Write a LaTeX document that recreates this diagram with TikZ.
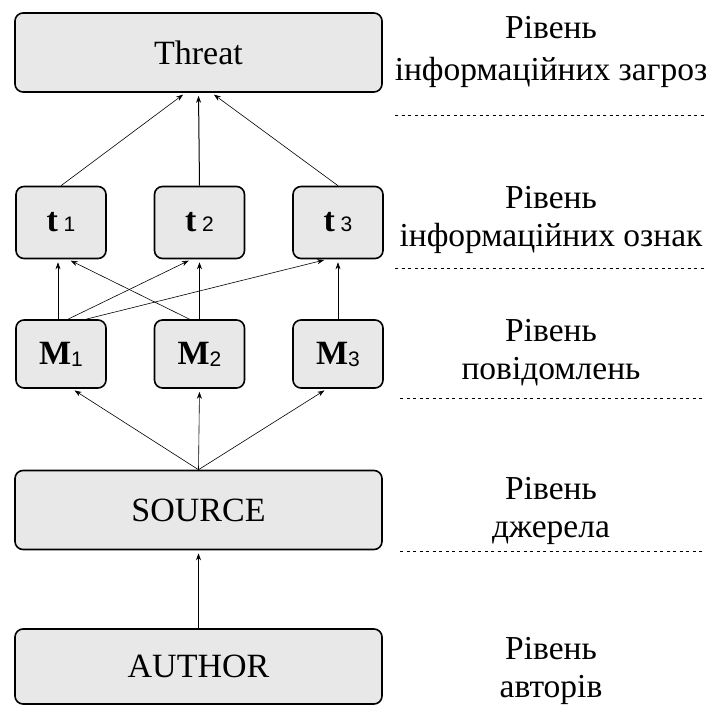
\documentclass[tikz,border=0pt]{standalone}
\usepackage{fontspec}
\setmainfont{Liberation Serif}
\setsansfont{Liberation Sans}
\usetikzlibrary{arrows.meta}
\definecolor{boxgray}{HTML}{E8E8E8}
% index digits of the node labels, set in a sans face
\newcommand\idx[1]{{\sffamily\fontsize{21}{21}\selectfont #1}}
\begin{document}
\begin{tikzpicture}[x=1pt,y=-1pt,
  box/.style={draw=black, line width=1.6pt, rounded corners=8pt, fill=boxgray,
    inner sep=0pt, font=\fontsize{34}{40}\selectfont},
  wide/.style={box, minimum width=367pt, minimum height=79pt},
  small/.style={box, minimum width=90pt, minimum height=72pt},
  link/.style={-{Stealth[length=7pt,width=5pt]}, line width=0.6pt, shorten >=3pt},
  level/.style={align=center, font=\fontsize{33.5}{38}\selectfont},
  sep/.style={dash pattern=on 3pt off 3.5pt, line width=1pt}]
\useasboundingbox (0,0) rectangle (709,707);

% boxes
\node[wide]  (threat) at (198.5,52.5) {Threat};
\node[small] (t1) at (61,222.5)  {\textbf{t}\,\idx{1}};
\node[small] (t2) at (199.5,222.5) {\textbf{t}\,\idx{2}};
\node[small] (t3) at (338,222.5) {\textbf{t}\,\idx{3}};
\node[small, minimum height=68pt] (m1) at (61,354)  {\textbf{M}\raisebox{-2pt}{\idx{1}}};
\node[small, minimum height=68pt] (m2) at (199.5,354) {\textbf{M}\raisebox{-2pt}{\idx{2}}};
\node[small, minimum height=68pt] (m3) at (338,354) {\textbf{M}\raisebox{-2pt}{\idx{3}}};
\node[wide]  (source) at (198.5,510) {SOURCE};
\node[wide, minimum height=75pt] (author) at (198.5,666.5) {AUTHOR};

% links
\draw[link] (t1.north) -- ([xshift=-13pt]threat.south);
\draw[link, line width=1pt] (t2.north) -- (threat.south);
\draw[link] (t3.north) -- ([xshift=13pt]threat.south);

\draw[link] ([xshift=-3pt]m1.north) -- ([xshift=-3pt]t1.south);
\draw[link] ([xshift=-10pt]m2.north) -- ([xshift=7pt]t1.south);
\draw[link] ([xshift=7pt]m1.north) -- ([xshift=-8pt]t2.south);
\draw[link] (m2.north) -- (t2.south);
\draw[link] ([xshift=25pt]m1.north) -- ([xshift=-11pt]t3.south);
\draw[link] (m3.north) -- (t3.south);

\draw[link] (source.north) -- ([xshift=11pt]m1.south);
\draw[link] (source.north) -- (m2.south);
\draw[link] (source.north) -- ([xshift=-11pt]m3.south);

\draw[link] (author.north) -- (source.south);

% level names
\node[level, font=\fontsize{33.5}{42}\selectfont] (l1) at (551,52)
  {Рівень\\інформаційних загроз};
\node[level] (l2) at (551,220) {Рівень\\інформаційних ознак};
\node[level] (l3) at (551,353) {Рівень\\повідомлень};
\node[level] (l4) at (551,511) {Рівень\\джерела};
\node[level] (l5) at (551,671) {Рівень\\авторів};

% level separators
\draw[sep] (395,115) -- (705,115);
\draw[sep] (395,268) -- (705,268);
\draw[sep] (400,398) -- (705,398);
\draw[sep] (400,551) -- (705,551);
\end{tikzpicture}
\end{document}
